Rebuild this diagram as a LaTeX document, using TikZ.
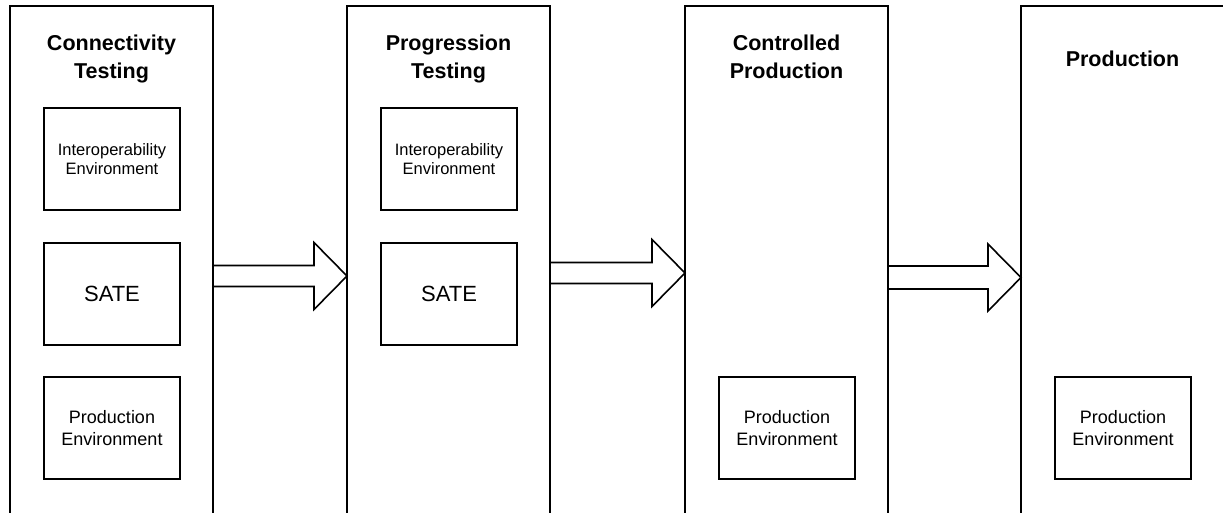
\documentclass[tikz,border=0pt]{standalone}
\usepackage{fontspec}
\setmainfont{Liberation Sans}
\usetikzlibrary{calc}

\tikzset{
	stage/.style={draw, line width=1.6pt, outer sep=0pt, inner sep=0pt, anchor=north west, minimum width=203pt, minimum height=540pt},
	envbox/.style={draw, line width=1.6pt, outer sep=0pt, inner sep=0pt, anchor=north west, minimum width=136pt, minimum height=102pt, align=center},
	title/.style={anchor=north, inner sep=0pt, align=center, font=\fontsize{21.5}{28}\selectfont\bfseries},
	small/.style={font=\fontsize{16.5}{19.5}\selectfont},
	medium/.style={font=\fontsize{18}{22}\selectfont},
	large/.style={font=\fontsize{22}{26}\selectfont},
	flow/.style={draw, line width=1.6pt, line join=miter}
}

\begin{document}
\begin{tikzpicture}[x=1pt, y=-1pt]
		\useasboundingbox (0,0) rectangle (1223,512);
		\clip (0,0) rectangle (1223,512);
		\fill[white] (0,0) rectangle (1223,512);
		\foreach \n/\x in {1/10,2/347,3/685,4/1021}
			\node[stage] (c\n) at (\x,6) {};
		\node[title] (t1) at ($(c1.north)+(0,29)$) {Connectivity\\Testing};
		\node[title] (t2) at ($(c2.north)+(0,29)$) {Progression\\Testing};
		\node[title] (t3) at ($(c3.north)+(0,29)$) {Controlled\\Production};
		\node[title] (t4) at ($(c4.north)+(0,45)$) {Production};
		% test environments
		\foreach \n in {1,2}{
			\node[envbox, small] (int\n) at ($(c\n.north west)+(34,102)$) {Interoperability\\Environment};
			\node[envbox, large] (sate\n) at ($(c\n.north west)+(34,237)$) {SATE};
		}
		\foreach \n in {1,3,4}
			\node[envbox, medium] (prod\n) at ($(c\n.north west)+(34,371)$) {Production\\Environment};
		% block arrows between the stages
		\foreach \i/\j/\dy/\w in {1/2/270/10.5,2/3/267/10.5,3/4/271.5/11.5}{
			\coordinate (a\i) at ($(c\i.north east)+(0,\dy)$);
			\coordinate (b\i) at ($(c\j.north west)+(0,\dy)$);
			\draw[flow] ($(a\i)+(0,-\w)$) -- ($(b\i)+(-33,-\w)$) -- ($(b\i)+(-33,-33.5)$) -- (b\i)
				-- ($(b\i)+(-33,33.5)$) -- ($(b\i)+(-33,\w)$) -- ($(a\i)+(0,\w)$);
		}
	\end{tikzpicture}
\end{document}
